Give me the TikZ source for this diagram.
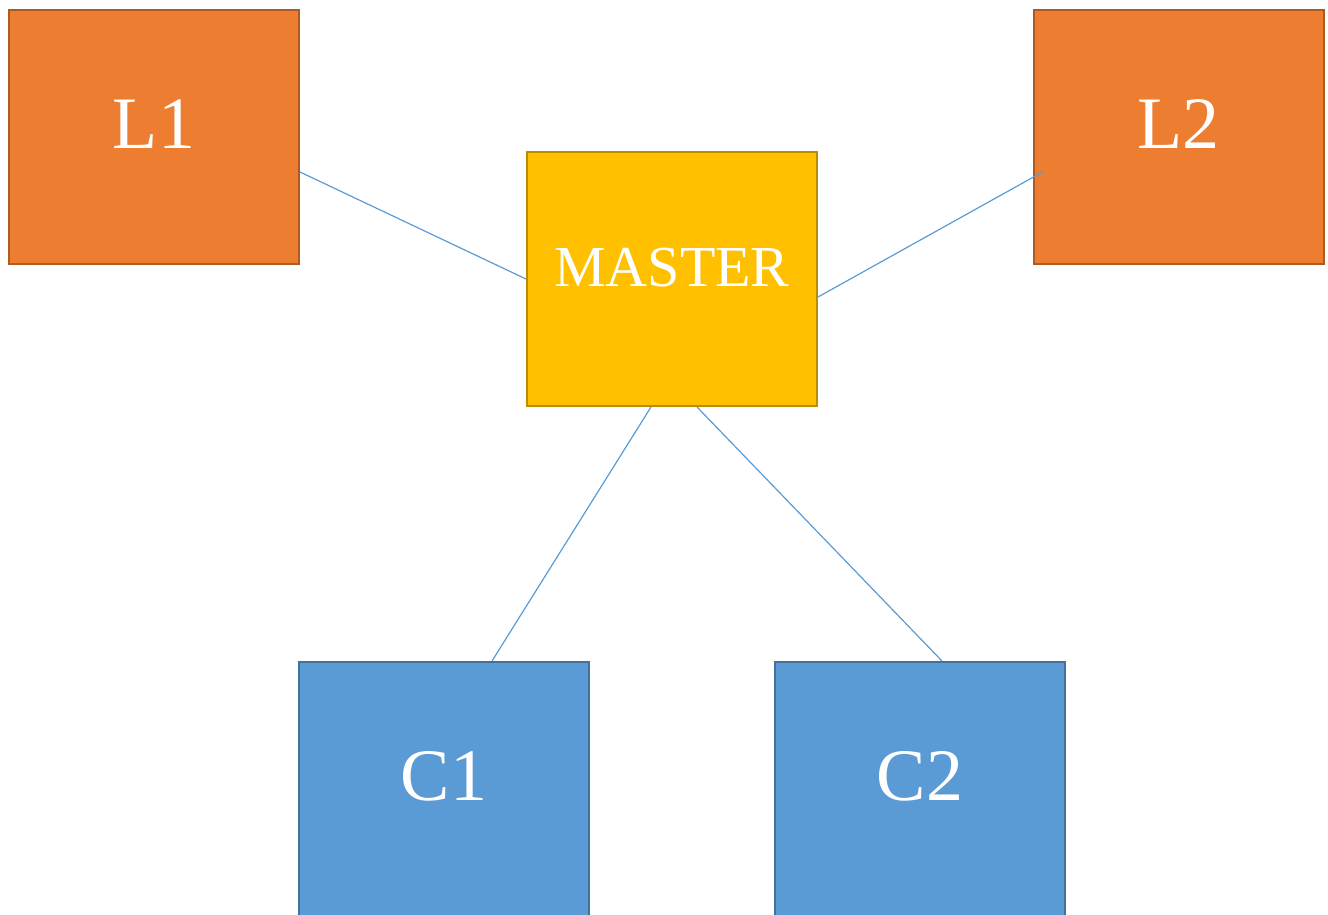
\documentclass[tikz,border=0pt]{standalone}
\usepackage{fontspec}
\setmainfont{Liberation Serif}
\definecolor{orangef}{HTML}{ED7D31}
\definecolor{oranged}{HTML}{AE5A21}
\definecolor{yellowf}{HTML}{FFC000}
\definecolor{yellowd}{HTML}{BC8C00}
\definecolor{bluef}{HTML}{5B9BD5}
\definecolor{blued}{HTML}{41719C}
\begin{document}
\begin{tikzpicture}[x=1pt,y=-1pt,
  box/.style={rectangle, minimum width=290pt, minimum height=254pt, inner sep=0pt, line width=2pt, text=white},
  bigtext/.style={font=\fontsize{74}{74}\selectfont, text depth=26pt},
  orangebox/.style={box, bigtext, fill=orangef, draw=oranged},
  bluebox/.style={box, bigtext, fill=bluef, draw=blued},
  masterbox/.style={box, fill=yellowf, draw=yellowd, font=\fontsize{58}{58}\selectfont, text depth=24pt},
  link/.style={draw=bluef, line width=1.2pt}]
\useasboundingbox (0,0) rectangle (1328,915);
\node[orangebox] (L1) at (154,137) {L1};
\node[orangebox] (L2) at (1178.5,137) {L2};
\node[masterbox] (M) at (672,279) {MASTER};
\node[bluebox] (C1) at (444,789) {C1};
\node[bluebox] (C2) at (920,789) {C2};
\draw[link] ([yshift=-35pt]L1.east) -- (M.west);
\draw[link] ([yshift=-18pt]M.east) -- ([xshift=10pt,yshift=-35pt]L2.west);
\draw[link] ([xshift=-21pt]M.south) -- ([xshift=48pt]C1.north);
\draw[link] ([xshift=25pt]M.south) -- ([xshift=22pt]C2.north);
\end{tikzpicture}
\end{document}
